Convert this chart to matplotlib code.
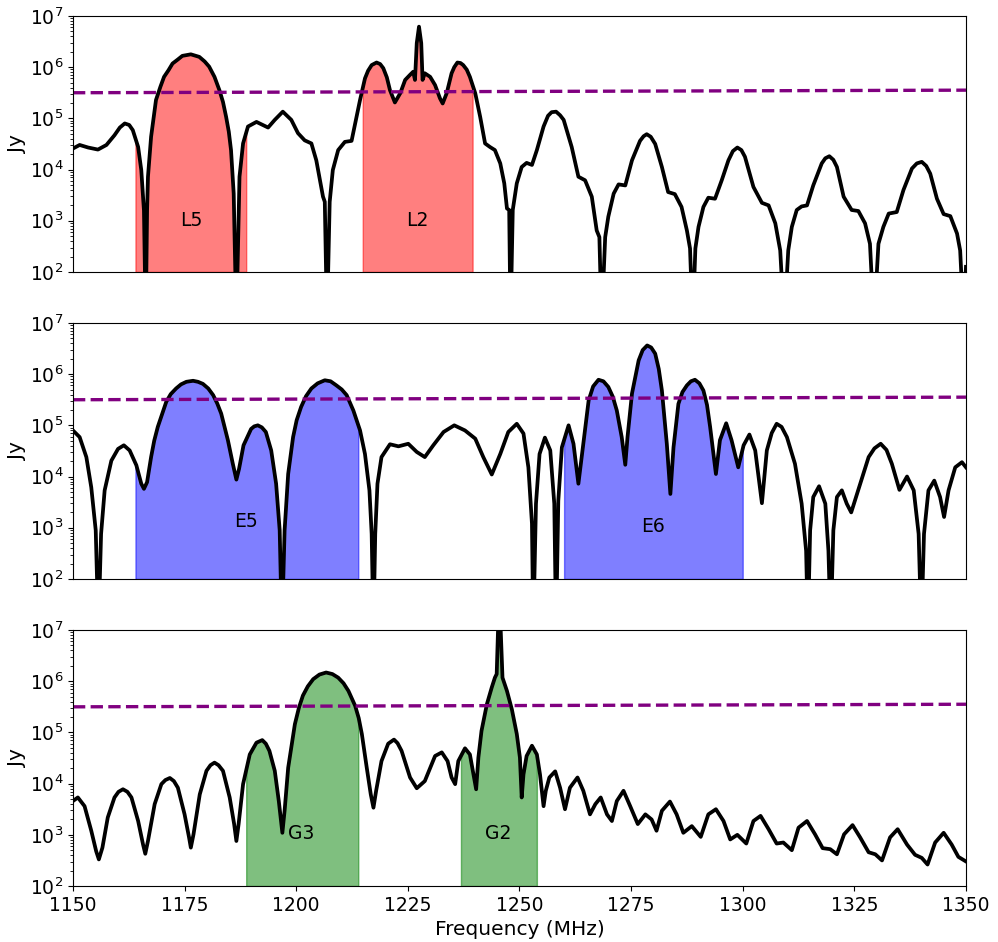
import numpy as np
import matplotlib
matplotlib.use('Agg')
from matplotlib import pyplot

# (frequency MHz, log10 Jy); 1.0 marks nulls below the axis
panel1 = [
    (1150.0, 4.41), (1151.5, 4.48), (1153.4, 4.43), (1155.6, 4.39), (1157.5, 4.48),
    (1159.3, 4.67), (1160.5, 4.82), (1161.6, 4.90), (1162.6, 4.87), (1163.4, 4.77),
    (1164.6, 4.44), (1165.3, 3.99), (1165.9, 3.20), (1166.3, 1.0), (1166.6, 3.20),
    (1166.8, 3.86), (1167.5, 4.64), (1168.6, 5.36), (1169.6, 5.62), (1170.4, 5.81),
    (1171.4, 5.94), (1172.3, 6.07), (1173.5, 6.15), (1174.5, 6.22), (1176.4, 6.25),
    (1178.3, 6.20), (1179.5, 6.11), (1180.5, 6.01), (1181.7, 5.81), (1182.8, 5.55),
    (1183.6, 5.32), (1184.3, 5.03), (1184.9, 4.74), (1185.4, 4.38), (1186.0, 3.53),
    (1186.6, 1.0), (1187.3, 3.86), (1188.1, 4.51), (1189.2, 4.84), (1191.1, 4.93),
    (1193.7, 4.82), (1195.2, 4.97), (1197.0, 5.13), (1198.9, 4.97), (1200.4, 4.71),
    (1201.9, 4.57), (1203.4, 4.51), (1204.5, 4.18), (1206.0, 3.47), (1206.4, 3.37),
    (1206.9, 1.0), (1207.5, 3.37), (1208.2, 3.99), (1209.4, 4.38), (1210.9, 4.54),
    (1212.4, 4.56), (1213.2, 4.90), (1214.3, 5.36), (1215.4, 5.78), (1216.1, 5.93),
    (1216.9, 6.04), (1218.0, 6.09), (1218.8, 6.06), (1219.5, 5.98), (1220.3, 5.80),
    (1221.0, 5.55), (1222.1, 5.31), (1223.3, 5.49), (1224.4, 5.75), (1225.5, 5.85),
    (1226.2, 5.91), (1226.6, 5.75), (1227.0, 6.47), (1227.5, 6.79), (1228.0, 6.47),
    (1228.3, 5.75), (1228.8, 5.88), (1230.0, 5.81), (1231.1, 5.65), (1232.2, 5.39),
    (1232.8, 5.29), (1233.7, 5.49), (1234.8, 5.88), (1235.4, 6.00), (1236.1, 6.09),
    (1236.8, 6.08), (1237.4, 6.04), (1238.2, 5.95), (1238.9, 5.81), (1240.1, 5.49),
    (1241.2, 5.03), (1242.3, 4.51), (1243.4, 4.44), (1244.5, 4.38), (1245.7, 4.12),
    (1246.6, 3.73), (1247.2, 3.24), (1247.7, 3.21), (1248.0, 1.0), (1248.5, 3.21),
    (1249.4, 3.73), (1250.5, 4.05), (1251.6, 4.13), (1252.8, 4.09), (1253.9, 4.38),
    (1255.4, 4.84), (1256.4, 5.05), (1257.2, 5.12), (1258.2, 5.13), (1259.1, 5.06),
    (1259.9, 4.97), (1261.7, 4.44), (1263.2, 3.86), (1264.7, 3.79), (1266.2, 3.47),
    (1267.3, 2.81), (1267.9, 2.68), (1268.4, 1.0), (1269.2, 2.68), (1269.9, 3.08),
    (1271.1, 3.53), (1272.2, 3.71), (1273.7, 3.69), (1275.2, 4.18), (1277.0, 4.56),
    (1277.8, 4.65), (1278.5, 4.69), (1279.4, 4.64), (1280.4, 4.50), (1281.9, 4.05),
    (1283.3, 3.56), (1284.8, 3.52), (1286.3, 3.27), (1287.5, 2.81), (1288.2, 2.46),
    (1288.8, 1.0), (1289.4, 2.46), (1290.1, 2.88), (1291.2, 3.27), (1292.3, 3.45),
    (1293.8, 3.43), (1295.3, 3.79), (1296.8, 4.18), (1297.8, 4.36), (1298.8, 4.43),
    (1299.7, 4.38), (1300.5, 4.25), (1302.4, 3.66), (1304.3, 3.35), (1305.8, 3.30),
    (1307.3, 2.95), (1308.4, 2.42), (1309.3, 1.0), (1310.2, 2.42), (1311.0, 2.88),
    (1312.1, 3.21), (1313.2, 3.28), (1314.4, 3.30), (1315.8, 3.69), (1317.7, 4.12),
    (1318.5, 4.22), (1319.4, 4.26), (1320.3, 4.19), (1321.1, 4.05), (1322.6, 3.47),
    (1324.4, 3.21), (1325.9, 3.19), (1327.4, 2.95), (1328.5, 2.55), (1329.4, 1.0),
    (1330.4, 2.55), (1331.5, 2.88), (1332.7, 3.14), (1334.5, 3.17), (1336.0, 3.60),
    (1337.9, 4.02), (1339.0, 4.12), (1340.1, 4.15), (1341.1, 4.07), (1342.0, 3.92),
    (1343.5, 3.43), (1345.0, 3.13), (1346.5, 3.09), (1348.0, 2.75), (1348.7, 2.42),
    (1349.5, 1.0), (1350.0, 2.1),
]

panel2 = [
    (1150.0, 4.90), (1151.5, 4.77), (1153.0, 4.38), (1154.1, 3.79), (1155.1, 2.95),
    (1155.7, 1.0), (1156.3, 2.88), (1157.1, 3.73), (1158.6, 4.31), (1160.1, 4.54),
    (1161.4, 4.61), (1162.7, 4.51), (1164.2, 4.22), (1165.3, 3.86), (1165.9, 3.76),
    (1166.6, 3.89), (1167.5, 4.38), (1168.2, 4.70), (1169.0, 4.97), (1170.9, 5.46),
    (1171.9, 5.61), (1173.1, 5.72), (1174.2, 5.80), (1175.4, 5.85), (1176.9, 5.87),
    (1178.0, 5.85), (1179.1, 5.81), (1180.3, 5.72), (1181.4, 5.59), (1182.3, 5.43),
    (1183.2, 5.23), (1184.7, 4.71), (1185.8, 4.25), (1186.6, 3.94), (1187.2, 4.15),
    (1188.2, 4.61), (1189.9, 4.93), (1190.6, 4.98), (1191.4, 5.00), (1192.3, 4.96),
    (1193.2, 4.87), (1194.4, 4.51), (1195.5, 3.86), (1196.3, 2.95), (1196.8, 1.0),
    (1197.4, 2.95), (1198.2, 4.05), (1199.3, 4.77), (1200.1, 5.10), (1201.1, 5.36),
    (1202.2, 5.57), (1203.4, 5.72), (1204.8, 5.82), (1206.4, 5.88), (1207.7, 5.86),
    (1209.0, 5.78), (1210.2, 5.70), (1211.3, 5.59), (1212.8, 5.29), (1214.3, 4.90),
    (1215.4, 4.44), (1216.4, 3.73), (1216.9, 2.88), (1217.3, 1.0), (1217.7, 2.88),
    (1218.2, 3.86), (1219.1, 4.38), (1221.0, 4.63), (1222.9, 4.59), (1225.1, 4.64),
    (1227.0, 4.48), (1228.8, 4.38), (1230.7, 4.61), (1233.0, 4.87), (1235.4, 5.00),
    (1237.8, 4.90), (1240.1, 4.74), (1241.9, 4.38), (1243.8, 4.04), (1245.7, 4.44),
    (1247.5, 4.87), (1249.4, 5.03), (1250.9, 4.84), (1252.0, 4.18), (1252.8, 3.08),
    (1253.1, 1.0), (1253.7, 3.47), (1254.5, 4.44), (1255.7, 4.76), (1256.9, 4.51),
    (1257.8, 3.47), (1258.2, 1.0), (1258.7, 3.53), (1259.5, 4.57), (1261.0, 5.00),
    (1262.1, 4.64), (1263.2, 3.86), (1264.3, 4.64), (1265.5, 5.49), (1266.5, 5.76),
    (1267.7, 5.89), (1268.8, 5.86), (1269.9, 5.75), (1270.9, 5.56), (1271.8, 5.29),
    (1272.9, 4.77), (1273.7, 4.23), (1274.2, 4.77), (1275.2, 5.62), (1276.7, 6.27),
    (1277.6, 6.47), (1278.6, 6.56), (1279.5, 6.52), (1280.4, 6.40), (1281.2, 6.10),
    (1281.9, 5.68), (1283.0, 4.64), (1283.8, 3.66), (1284.5, 4.57), (1285.6, 5.42),
    (1286.5, 5.65), (1287.5, 5.78), (1288.4, 5.86), (1289.3, 5.89), (1290.3, 5.82),
    (1291.2, 5.68), (1292.0, 5.40), (1292.7, 4.97), (1294.0, 4.05), (1294.9, 4.71),
    (1296.3, 5.04), (1297.5, 4.71), (1299.0, 4.18), (1300.2, 4.61), (1301.5, 4.82),
    (1302.8, 4.51), (1304.3, 3.48), (1305.4, 4.51), (1306.5, 4.85), (1307.6, 5.03),
    (1308.7, 4.97), (1309.9, 4.77), (1311.7, 4.25), (1313.2, 3.47), (1314.2, 2.55),
    (1314.6, 1.0), (1315.1, 2.95), (1315.8, 3.60), (1317.1, 3.81), (1318.5, 3.47),
    (1319.2, 2.55), (1319.7, 1.0), (1320.3, 2.95), (1321.1, 3.60), (1322.2, 3.73),
    (1323.3, 3.47), (1324.3, 3.30), (1325.6, 3.66), (1328.2, 4.38), (1329.5, 4.55),
    (1330.9, 4.64), (1332.2, 4.52), (1333.4, 4.25), (1335.1, 3.74), (1336.8, 4.00),
    (1338.3, 3.73), (1339.4, 2.88), (1340.0, 1.0), (1340.6, 2.88), (1341.6, 3.73),
    (1342.9, 3.92), (1344.2, 3.60), (1345.1, 3.21), (1346.1, 3.73), (1347.6, 4.18),
    (1349.1, 4.28), (1350.0, 4.18),
]

panel3 = [
    (1150.0, 3.66), (1151.1, 3.73), (1152.6, 3.56), (1154.1, 3.08), (1155.2, 2.68),
    (1155.8, 2.52), (1156.6, 2.75), (1157.8, 3.34), (1159.3, 3.73), (1160.2, 3.84),
    (1161.2, 3.89), (1162.2, 3.84), (1163.1, 3.73), (1164.6, 3.27), (1165.7, 2.81),
    (1166.2, 2.63), (1166.8, 2.88), (1168.3, 3.60), (1169.8, 3.99), (1170.7, 4.07),
    (1171.7, 4.11), (1172.6, 4.05), (1173.5, 3.92), (1175.0, 3.40), (1176.0, 2.95),
    (1176.4, 2.75), (1177.0, 3.01), (1178.4, 3.79), (1179.9, 4.25), (1180.8, 4.36),
    (1181.7, 4.41), (1182.6, 4.36), (1183.6, 4.25), (1185.1, 3.73), (1186.1, 3.21),
    (1186.6, 2.88), (1187.1, 3.21), (1188.1, 3.99), (1189.6, 4.57), (1191.1, 4.80),
    (1192.4, 4.85), (1193.2, 4.78), (1194.0, 4.64), (1195.2, 4.25), (1196.1, 3.66),
    (1196.9, 3.04), (1197.4, 3.47), (1198.2, 4.31), (1199.7, 5.16), (1200.6, 5.48),
    (1201.5, 5.72), (1202.6, 5.90), (1203.8, 6.04), (1205.2, 6.13), (1206.7, 6.17),
    (1208.1, 6.14), (1209.4, 6.07), (1210.6, 5.96), (1211.7, 5.81), (1213.2, 5.52),
    (1214.0, 5.28), (1214.7, 4.97), (1215.8, 4.31), (1216.7, 3.79), (1217.3, 3.53),
    (1217.9, 3.86), (1219.1, 4.44), (1220.6, 4.78), (1221.9, 4.86), (1222.7, 4.79),
    (1223.6, 4.64), (1225.5, 4.12), (1227.0, 3.91), (1228.8, 4.05), (1231.1, 4.54),
    (1232.6, 4.61), (1233.9, 4.44), (1234.8, 4.12), (1235.6, 3.99), (1236.3, 4.44),
    (1237.8, 4.69), (1238.9, 4.57), (1239.7, 4.18), (1240.3, 3.89), (1240.8, 4.51),
    (1241.5, 5.03), (1242.7, 5.55), (1243.8, 5.88), (1244.5, 6.07), (1244.9, 6.14),
    (1245.2, 7.0), (1245.5, 7.3), (1245.8, 7.0), (1246.2, 6.07), (1247.2, 5.81),
    (1248.3, 5.45), (1249.4, 4.97), (1250.1, 4.51), (1250.5, 3.73), (1250.9, 4.18),
    (1251.6, 4.54), (1252.8, 4.74), (1253.9, 4.57), (1254.6, 4.18), (1255.4, 3.56),
    (1255.9, 3.86), (1256.7, 4.12), (1258.0, 4.24), (1259.1, 3.92), (1260.2, 3.50),
    (1261.3, 3.92), (1263.0, 4.12), (1264.3, 3.86), (1265.8, 3.40), (1267.0, 3.60),
    (1268.2, 3.73), (1269.6, 3.40), (1270.7, 3.27), (1271.8, 3.66), (1273.3, 3.86),
    (1274.8, 3.56), (1276.5, 3.21), (1278.2, 3.40), (1279.6, 3.30), (1280.7, 3.08),
    (1281.9, 3.47), (1283.7, 3.65), (1285.2, 3.40), (1286.7, 3.04), (1288.6, 3.17),
    (1290.6, 2.96), (1292.3, 3.40), (1294.0, 3.50), (1295.7, 3.27), (1297.2, 2.91),
    (1298.8, 3.00), (1300.8, 2.83), (1302.4, 3.27), (1304.0, 3.37), (1305.8, 3.11),
    (1307.6, 2.83), (1309.1, 2.85), (1311.0, 2.70), (1312.5, 3.14), (1314.4, 3.27),
    (1316.2, 3.01), (1317.9, 2.74), (1319.6, 2.72), (1321.1, 2.62), (1322.7, 3.01),
    (1324.6, 3.19), (1326.3, 2.95), (1328.2, 2.66), (1329.7, 2.62), (1331.2, 2.50),
    (1333.0, 2.95), (1334.7, 3.11), (1336.8, 2.81), (1338.6, 2.61), (1340.1, 2.55),
    (1341.4, 2.42), (1343.1, 2.85), (1345.0, 3.04), (1346.8, 2.81), (1348.3, 2.57),
    (1350.0, 2.48),
]

# dashed threshold line (Jy) at the two ends of the band
limit_freq = [1150.0, 1350.0]
limit_jy = [3.16e5, 3.55e5]

# bands: name, low edge, high edge, label position (MHz, Jy)
bands1 = [('L5', 1164.0, 1188.8, 1176.4, 1.0e3), ('L2', 1214.9, 1239.5, 1227.2, 1.0e3)]
bands2 = [('E5', 1164.0, 1213.9, 1188.8, 1.3e3), ('E6', 1260.0, 1300.0, 1280.0, 1.05e3)]
bands3 = [('G3', 1188.8, 1213.9, 1201.2, 1.05e3), ('G2', 1236.9, 1253.9, 1245.3, 1.05e3)]


def Panel(ax, points, bands, color):

    points = sorted(points)
    freq = np.array([p[0] for p in points])
    logjy = np.array([p[1] for p in points])

    for name, lo, hi, tx, ty in bands:
        inside = (freq > lo) & (freq < hi)
        bx = np.concatenate([[lo], freq[inside], [hi]])
        by = np.concatenate([[np.interp(lo, freq, logjy)], logjy[inside],
                             [np.interp(hi, freq, logjy)]])
        ax.fill_between(bx, 1e2, 10 ** by, color=color, alpha=0.5)
        ax.text(tx, ty, name, fontsize=13.5, ha='center', va='center')

    ax.plot(freq, 10 ** logjy, color='black', lw=2.7)
    ax.plot(limit_freq, limit_jy, color='purple', lw=2.4, ls='--')

    ax.set_yscale('log')
    ax.set_ylim(1e2, 1e7)
    ax.set_xlim(1150, 1350)
    ax.set_ylabel('Jy', fontsize=14.5)
    ax.tick_params(labelsize=13.5)


fig = pyplot.figure(figsize=(9.98, 9.42), dpi=100)
ax1 = fig.add_axes([0.0731, 0.7113, 0.8948, 0.2718])
ax2 = fig.add_axes([0.0731, 0.3854, 0.8948, 0.2718])
ax3 = fig.add_axes([0.0731, 0.0594, 0.8948, 0.2718])

Panel(ax1, panel1, bands1, 'red')
Panel(ax2, panel2, bands2, 'blue')
Panel(ax3, panel3, bands3, 'green')

for ax in (ax1, ax2):
    ax.tick_params(axis='x', bottom=False, labelbottom=False)

ax3.set_xticks([1150, 1175, 1200, 1225, 1250, 1275, 1300, 1325, 1350])
ax3.set_xlabel('Frequency (MHz)', fontsize=14.5)

for ax in (ax1, ax2, ax3):
    ax.yaxis.set_label_coords(-0.052, 0.5)

fig.savefig('out.png', dpi=100)
